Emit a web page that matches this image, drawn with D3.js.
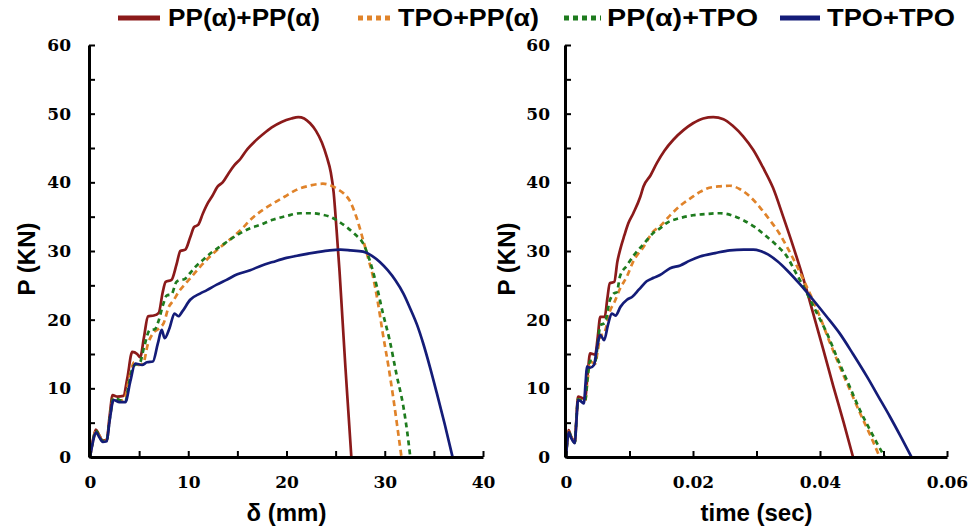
<!DOCTYPE html>
<html>
<head>
<meta charset="utf-8">
<script src="https://cdn.jsdelivr.net/npm/d3@7/dist/d3.min.js"></script>
<style>
  html, body { margin: 0; padding: 0; background: #fff; }
  svg { display: block; }
</style>
</head>
<body>
<svg id="chart" width="968" height="531"></svg>
<script>
// ---------------- DATA ----------------
const seriesNames = ["PP(α)+PP(α)", "TPO+PP(α)", "PP(α)+TPO", "TPO+TPO"];
const seriesColors = ["#8B1A1A", "#E0832A", "#1E7B1E", "#141C78"];
const seriesDash = [null, "6,4", "5,4", null];

const yTicks = [0, 5, 10, 15, 20, 25, 30, 35, 40, 45, 50, 55, 60];
const yTickLabels = [0, 10, 20, 30, 40, 50, 60];
const xTicksDisp = [0, 5, 10, 15, 20, 25, 30, 35, 40];
const xTickLabelsDisp = [0, 10, 20, 30, 40];
const xTicksTime = [0, 0.01, 0.02, 0.03, 0.04, 0.05, 0.06];
const xTickLabelsTime = [0, 0.02, 0.04, 0.06];

// Left panel: displacement δ (mm) vs P (kN)
const dispPP_PP = [[0,0],[0.3,2.5],[0.6,4.0],[0.9,3.3],[1.3,2.4],[1.7,2.5],[2.0,6.0],[2.3,9.0],[2.8,8.8],[3.4,8.9],[3.8,11.5],[4.3,15.3],[4.8,15.0],[5.1,14.5],[5.5,17.5],[5.9,20.5],[6.5,20.6],[7.0,21.0],[7.4,24.0],[7.7,25.5],[8.3,25.8],[8.8,28.0],[9.2,30.0],[9.7,30.2],[10.2,32.0],[10.6,33.5],[11.0,33.8],[11.5,35.5],[12.0,37.0],[12.4,37.9],[13.0,39.4],[13.5,40.0],[14.1,41.3],[14.7,42.5],[15.3,43.4],[16.0,44.8],[16.8,46.0],[17.6,47.0],[18.5,48.0],[19.5,48.8],[20.5,49.3],[21.2,49.5],[21.8,49.3],[22.4,48.6],[23.0,47.5],[23.6,45.8],[24.1,43.7],[24.5,41.5],[24.8,38.5],[25.1,33.0],[25.4,27.0],[25.7,20.0],[26.0,13.0],[26.3,6.5],[26.6,0]];
const dispTPO_PP = [[0,0],[0.3,2.3],[0.6,3.8],[0.9,3.2],[1.3,2.3],[1.7,2.4],[2.0,5.5],[2.4,8.5],[3.0,8.2],[3.5,8.4],[4.0,11.5],[4.5,13.8],[5.0,13.4],[5.4,13.6],[5.9,16.5],[6.4,18.0],[7.1,18.8],[7.5,19.5],[8.0,21.8],[8.5,22.8],[9.0,24.0],[9.5,24.9],[10.2,26.0],[11.2,27.7],[12.0,28.9],[12.9,30.1],[13.8,31.2],[14.6,32.1],[15.5,33.3],[16.3,34.5],[17.6,36.0],[18.6,36.9],[19.8,37.9],[21.0,38.9],[22.3,39.5],[23.7,39.8],[24.4,39.6],[25.1,39.1],[25.8,38.4],[26.4,37.4],[27.1,35.0],[27.8,31.6],[28.3,29.0],[28.8,26.3],[29.3,22.5],[29.8,18.0],[30.4,13.0],[30.9,8.3],[31.3,4.2],[31.7,0]];
const dispPP_TPO = [[0,0],[0.3,2.3],[0.6,3.8],[0.9,3.1],[1.3,2.3],[1.7,2.4],[2.0,5.5],[2.4,8.6],[3.0,8.3],[3.6,8.1],[4.0,11.0],[4.4,13.2],[5.1,13.8],[5.5,16.0],[6.1,18.5],[6.6,18.6],[6.95,19.7],[7.4,22.0],[7.8,23.5],[8.3,23.7],[8.8,25.5],[9.2,25.8],[9.6,25.9],[10.2,26.8],[10.8,27.8],[11.5,28.7],[12.3,29.7],[13.2,30.6],[14.2,31.6],[15.3,32.6],[16.3,33.3],[17.3,33.8],[18.5,34.5],[20.0,35.1],[21.4,35.5],[22.7,35.5],[23.6,35.3],[24.4,35.0],[25.2,34.4],[26.1,33.5],[27.0,32.4],[27.8,31.1],[28.5,28.5],[29.2,24.8],[29.8,21.0],[30.5,17.0],[31.2,12.0],[31.9,7.3],[32.3,3.5],[32.6,0]];
const dispTPO_TPO = [[0,0],[0.3,2.2],[0.6,3.6],[0.9,3.0],[1.3,2.2],[1.7,2.3],[2.0,5.3],[2.4,8.3],[3.0,8.0],[3.6,8.0],[4.1,11.0],[4.6,13.6],[5.3,13.4],[5.8,13.8],[6.4,13.9],[6.9,16.5],[7.3,18.5],[7.6,17.3],[8.1,18.8],[8.6,20.9],[9.0,20.5],[9.4,21.2],[10.2,22.9],[11.2,23.8],[11.9,24.3],[12.9,25.1],[13.9,25.8],[15.0,26.6],[16.3,27.2],[17.5,27.9],[18.6,28.4],[20.0,29.0],[21.4,29.4],[23.0,29.8],[24.4,30.1],[25.5,30.2],[26.5,30.1],[27.8,29.9],[28.7,29.3],[29.5,28.4],[30.3,27.2],[31.1,25.7],[31.9,23.8],[32.6,21.6],[33.3,19.2],[33.9,16.6],[34.6,13.1],[35.3,9.3],[36.1,4.8],[36.9,0]];

// Right panel: time (sec) vs P (kN)
const timePP_PP = [[0,0],[0.0002,2.5],[0.0004,3.9],[0.0008,3.0],[0.0014,2.2],[0.0016,5.0],[0.0019,8.8],[0.0025,8.6],[0.003,8.5],[0.0034,12.0],[0.0038,15.1],[0.0046,14.9],[0.005,17.5],[0.0054,20.4],[0.0061,20.4],[0.0065,23.0],[0.0069,25.3],[0.0076,25.5],[0.0081,28.5],[0.0085,30.1],[0.0092,32.3],[0.0098,34.0],[0.0106,35.5],[0.0117,37.9],[0.0122,39.4],[0.0133,41.0],[0.0143,42.8],[0.0155,44.6],[0.0169,46.2],[0.0185,47.6],[0.02,48.6],[0.0216,49.3],[0.0232,49.5],[0.0248,49.2],[0.0263,48.2],[0.0279,46.7],[0.0295,44.7],[0.031,42.2],[0.0326,39.2],[0.0342,35.0],[0.0358,30.6],[0.0374,25.9],[0.0389,21.0],[0.0405,15.7],[0.0421,10.3],[0.0437,5.1],[0.0452,0]];
const timeTPO_PP = [[0,0],[0.0002,2.3],[0.0004,3.7],[0.0008,2.9],[0.0014,2.1],[0.0016,4.8],[0.0019,8.4],[0.0025,8.2],[0.003,8.1],[0.0034,11.2],[0.0038,13.9],[0.0046,13.6],[0.005,15.5],[0.0054,17.5],[0.0061,18.2],[0.0069,21.2],[0.0076,22.5],[0.0085,24.5],[0.0096,26.3],[0.0106,28.5],[0.0122,30.6],[0.0137,32.8],[0.0148,33.6],[0.0165,35.3],[0.018,36.6],[0.0198,37.8],[0.0211,38.6],[0.0222,39.1],[0.024,39.4],[0.0258,39.5],[0.0274,39.0],[0.029,37.9],[0.0305,36.4],[0.0321,34.5],[0.0335,32.7],[0.0348,30.6],[0.0361,28.3],[0.0374,25.8],[0.0387,23.2],[0.04,20.4],[0.0415,16.8],[0.0431,13.2],[0.0447,9.8],[0.0463,6.4],[0.0479,3.2],[0.0494,0]];
const timePP_TPO = [[0,0],[0.0002,2.3],[0.0004,3.7],[0.0008,2.9],[0.0014,2.1],[0.0016,4.8],[0.0019,8.4],[0.0025,8.2],[0.003,8.2],[0.0034,11.5],[0.0038,14.0],[0.0046,13.9],[0.005,16.5],[0.0054,19.2],[0.0061,19.5],[0.0069,22.8],[0.0075,23.8],[0.008,24.0],[0.0085,26.3],[0.0096,27.9],[0.0108,29.5],[0.0122,31.0],[0.0137,32.6],[0.0148,33.3],[0.0159,34.1],[0.018,34.8],[0.02,35.2],[0.0222,35.4],[0.0243,35.5],[0.0261,35.2],[0.0279,34.5],[0.0297,33.5],[0.0316,32.1],[0.0332,30.8],[0.0348,29.2],[0.0361,27.0],[0.0374,24.8],[0.0392,21.5],[0.0411,18.0],[0.0429,14.0],[0.0447,10.2],[0.0463,6.8],[0.0479,3.9],[0.0491,1.8],[0.0502,0]];
const timeTPO_TPO = [[0,0],[0.0002,2.2],[0.0004,3.6],[0.0008,2.8],[0.0014,2.0],[0.0016,4.6],[0.0019,8.3],[0.0025,8.0],[0.0028,7.8],[0.0031,11.0],[0.0033,13.2],[0.0038,13.0],[0.0044,13.4],[0.0049,16.0],[0.0054,17.8],[0.006,17.0],[0.0066,19.2],[0.0072,20.9],[0.0078,20.6],[0.0086,21.9],[0.0096,22.9],[0.0104,23.3],[0.0115,24.4],[0.0127,25.6],[0.0138,26.1],[0.0148,26.5],[0.0164,27.5],[0.018,27.9],[0.0195,28.6],[0.0211,29.2],[0.0235,29.7],[0.0258,30.1],[0.028,30.2],[0.0295,30.2],[0.0306,30.0],[0.0318,29.5],[0.0333,28.5],[0.0348,27.2],[0.0368,25.2],[0.0389,22.9],[0.041,20.5],[0.0431,18.0],[0.0452,15.0],[0.0474,11.7],[0.0492,8.8],[0.051,5.9],[0.0527,3.0],[0.0544,0]];

// ---------------- DRAW ----------------
const svg = d3.select("#chart");
const tickFont = "'DejaVu Serif', serif";
const titleFont = "'Liberation Sans', Arial, sans-serif";

const panels = [
  { series: [dispPP_PP, dispTPO_PP, dispPP_TPO, dispTPO_TPO], xDomain: [0, 40], xRange: [90, 483],
    xTicks: xTicksDisp, xLabels: xTickLabelsDisp, xFmt: d => d3.format("d")(d),
    xTitle: "δ (mm)", yPad: 18, yTitleX: 35 },
  { series: [timePP_PP, timeTPO_PP, timePP_TPO, timeTPO_TPO], xDomain: [0, 0.06], xRange: [566, 947],
    xTicks: xTicksTime, xLabels: xTickLabelsTime, xFmt: d => d === 0 ? "0" : d3.format(".2f")(d),
    xTitle: "time (sec)", yPad: 15, yTitleX: 515 }
];

const yRange = [457, 45];

panels.forEach(p => {
  const x = d3.scaleLinear().domain(p.xDomain).range(p.xRange);
  const y = d3.scaleLinear().domain([0, 60]).range(yRange);
  const g = svg.append("g");

  const line = d3.line().x(d => x(d[0])).y(d => y(d[1])).curve(d3.curveMonotoneX);
  p.series.forEach((s, i) => {
    g.append("path").datum(s)
      .attr("d", line)
      .attr("fill", "none")
      .attr("stroke", seriesColors[i])
      .attr("stroke-width", 2.7)
      .attr("stroke-dasharray", seriesDash[i])
      .attr("stroke-linejoin", "round");
  });

  const yAxis = d3.axisLeft(y).tickValues(yTicks)
    .tickFormat(d => yTickLabels.includes(d) ? d : "")
    .tickSizeInner(-6).tickSizeOuter(0).tickPadding(p.yPad);
  const ya = g.append("g").attr("transform", `translate(${p.xRange[0] - 1},0)`).call(yAxis);

  const xAxis = d3.axisBottom(x).tickValues(p.xTicks)
    .tickFormat(d => p.xLabels.some(v => Math.abs(v - d) < 1e-9) ? p.xFmt(d) : "")
    .tickSizeInner(-6).tickSizeOuter(0).tickPadding(19);
  const xa = g.append("g").attr("transform", `translate(0,${yRange[0]})`).call(xAxis);

  [ya, xa].forEach(a => {
    a.select(".domain").attr("stroke", "#000").attr("stroke-width", 3);
    a.selectAll(".tick line").attr("stroke", "#000").attr("stroke-width", 2);
    a.selectAll(".tick text").attr("fill", "#000")
      .attr("font-family", tickFont).attr("font-weight", "bold").attr("font-size", 17);
  });

  g.append("text").attr("x", (p.xRange[0] + p.xRange[1]) / 2).attr("y", 521)
    .attr("text-anchor", "middle").attr("font-family", titleFont)
    .attr("font-weight", "bold").attr("font-size", 24).text(p.xTitle);
  g.append("text").attr("transform", `translate(${p.yTitleX},${(yRange[0] + yRange[1]) / 2 + 8}) rotate(-90)`)
    .attr("text-anchor", "middle").attr("font-family", titleFont)
    .attr("font-weight", "bold").attr("font-size", 24).text("P (KN)");
});

// ---------------- LEGEND ----------------
const legendSwatchX = [118, 358, 564, 780];
const legendSwatchW = [42, 34, 37, 40];
const legendTextX = [168, 398, 607, 827];
const legendTextW = [152, 141, 151, 128];
const legendY = 18;
const lg = svg.append("g");
seriesNames.forEach((name, i) => {
  lg.append("line")
    .attr("x1", legendSwatchX[i]).attr("x2", legendSwatchX[i] + legendSwatchW[i])
    .attr("y1", legendY).attr("y2", legendY)
    .attr("stroke", seriesColors[i]).attr("stroke-width", 5)
    .attr("stroke-dasharray", seriesDash[i] ? "5,4" : null);
  lg.append("text")
    .attr("x", legendTextX[i]).attr("y", legendY + 8)
    .attr("font-family", "'Liberation Sans Narrow', 'Liberation Sans', Arial, sans-serif")
    .attr("font-weight", "bold").attr("font-size", 24)
    .attr("textLength", legendTextW[i]).attr("lengthAdjust", "spacingAndGlyphs")
    .text(name);
});
</script>
</body>
</html>
